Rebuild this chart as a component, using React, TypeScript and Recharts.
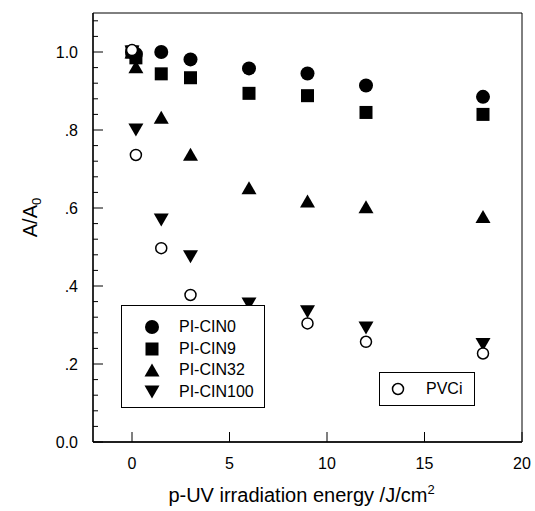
import { Label, Legend, ReferenceArea, Scatter, ScatterChart, XAxis, YAxis } from 'recharts'

const FONT = '"Liberation Sans", Arial, sans-serif'

// p-UV dose (J/cm2) and normalised absorbance A/A0
const energy = [0, 0.2, 1.5, 3, 6, 9, 12, 18]
const cin0 = [1.0, 0.995, 1.0, 0.981, 0.958, 0.945, 0.914, 0.885]
const cin9 = [1.0, 0.985, 0.944, 0.934, 0.894, 0.888, 0.845, 0.84]
const cin32 = [1.0, 0.962, 0.833, 0.738, 0.652, 0.618, 0.603, 0.578]
const cin100 = [1.0, 0.8, 0.569, 0.475, 0.354, 0.334, 0.292, 0.25]
const pvciEnergy = [0, 0.2, 1.5, 3, 9, 12, 18]
const pvci = [1.005, 0.736, 0.497, 0.377, 0.304, 0.257, 0.227]

const xTicks = [0, 5, 10, 15, 20]
const yMajorTicks = [0, 0.2, 0.4, 0.6, 0.8, 1.0]
const yTickLabels = ['0.0', '.2', '.4', '.6', '.8', '1.0']
const yMinorTicks = [
  0.04, 0.08, 0.12, 0.16, 0.24, 0.28, 0.32, 0.36, 0.44, 0.48, 0.52, 0.56, 0.64, 0.68, 0.72, 0.76, 0.84, 0.88,
  0.92, 0.96, 1.04, 1.08,
]

type Kind = 'circle' | 'square' | 'up' | 'down' | 'open'

const toPoints = (xs: number[], ys: number[]) => xs.map((x, i) => ({ x, y: ys[i] }))

const series: { name: string; kind: Kind; data: { x: number; y: number }[] }[] = [
  { name: 'PI-CIN0', kind: 'circle', data: toPoints(energy, cin0) },
  { name: 'PI-CIN9', kind: 'square', data: toPoints(energy, cin9) },
  { name: 'PI-CIN32', kind: 'up', data: toPoints(energy, cin32) },
  { name: 'PI-CIN100', kind: 'down', data: toPoints(energy, cin100) },
  { name: 'PVCi', kind: 'open', data: toPoints(pvciEnergy, pvci) },
]

function Marker({ kind, cx, cy }: { kind: Kind; cx: number; cy: number }) {
  switch (kind) {
    case 'circle':
      return <circle cx={cx} cy={cy} r={7} fill="#000" />
    case 'square':
      return <rect x={cx - 6.5} y={cy - 6.5} width={13} height={13} fill="#000" />
    case 'up':
      return <polygon points={`${cx},${cy - 6.5} ${cx + 7.5},${cy + 6.5} ${cx - 7.5},${cy + 6.5}`} fill="#000" />
    case 'down':
      return <polygon points={`${cx},${cy + 6.5} ${cx + 7.5},${cy - 6.5} ${cx - 7.5},${cy - 6.5}`} fill="#000" />
    default:
      return <circle cx={cx} cy={cy} r={5.5} fill="#fff" stroke="#000" strokeWidth={1.5} />
  }
}

function YTick(props: any) {
  const { x, y, payload } = props
  const i = yMajorTicks.indexOf(payload.value)
  const major = i >= 0
  return (
    <g>
      <line x1={x} x2={x + (major ? 10 : 5)} y1={y} y2={y} stroke="#000" />
      {major && (
        <text x={x - 15} y={y + 5.5} textAnchor="end" fontSize={16} fontFamily={FONT} fill="#000">
          {yTickLabels[i]}
        </text>
      )}
    </g>
  )
}

function XTick(props: any) {
  const { x, y, payload } = props
  return (
    <g>
      <line x1={x} x2={x} y1={y} y2={y - 10} stroke="#000" />
      <text x={x} y={y + 27} textAnchor="middle" fontSize={16} fontFamily={FONT} fill="#000">
        {payload.value}
      </text>
    </g>
  )
}

function YTitle(props: any) {
  const { viewBox } = props
  const x = 37
  const y = viewBox.y + viewBox.height / 2 - 10
  return (
    <text
      x={x}
      y={y}
      transform={`rotate(-90, ${x}, ${y})`}
      textAnchor="middle"
      fontSize={20}
      fontFamily={FONT}
      fill="#000"
    >
      A/A
      <tspan dy={4} fontSize={13}>
        0
      </tspan>
    </text>
  )
}

function XTitle(props: any) {
  const { viewBox } = props
  return (
    <text
      x={viewBox.x + viewBox.width / 2 - 6}
      y={viewBox.y + 60}
      textAnchor="middle"
      fontSize={20}
      fontFamily={FONT}
      fill="#000"
    >
      p-UV irradiation energy /J/cm
      <tspan dy={-8} fontSize={13}>
        2
      </tspan>
    </text>
  )
}

function LegendRow({ kind, name, top, symbolX, textX }: { kind: Kind; name: string; top: number; symbolX: number; textX: number }) {
  return (
    <div style={{ position: 'absolute', left: 0, top: top - 10, height: 20, width: '100%' }}>
      <svg width={20} height={20} style={{ position: 'absolute', left: symbolX - 10, top: 0 }}>
        <Marker kind={kind} cx={10} cy={10} />
      </svg>
      <span style={{ position: 'absolute', left: textX, top: 0, lineHeight: '20px', whiteSpace: 'nowrap' }}>{name}</span>
    </div>
  )
}

function LegendBoxes() {
  const main = series.slice(0, 4)
  const box = { position: 'absolute' as const, border: '1px solid #000', background: '#fff', boxSizing: 'border-box' as const }
  return (
    <div style={{ position: 'relative', fontFamily: FONT, fontSize: 16, color: '#000' }}>
      <div style={{ ...box, left: 121, top: 305, width: 144, height: 103 }}>
        {main.map((s, i) => (
          <LegendRow key={s.name} kind={s.kind} name={s.name} top={21 + i * 21.5} symbolX={30} textX={57} />
        ))}
      </div>
      <div style={{ ...box, left: 379, top: 372, width: 96, height: 34 }}>
        <LegendRow kind="open" name="PVCi" top={16} symbolX={18} textX={46} />
      </div>
    </div>
  )
}

export default function App() {
  return (
    <div style={{ position: 'absolute', left: 0, top: 0, background: '#fff' }}>
      <ScatterChart width={535} height={511} margin={{ top: 13, right: 13, bottom: 0, left: 0 }}>
        <ReferenceArea x1={-2} x2={20} y1={0} y2={1.1} fill="none" stroke="#000" strokeWidth={1} ifOverflow="visible" />
        <XAxis
          type="number"
          dataKey="x"
          domain={[-2, 20]}
          ticks={xTicks}
          interval={0}
          height={69}
          tickSize={0}
          tickMargin={0}
          tickLine={false}
          tick={<XTick />}
          axisLine={{ stroke: '#000', strokeWidth: 1.3 }}
          allowDataOverflow
        >
          <Label content={<XTitle />} />
        </XAxis>
        <YAxis
          type="number"
          dataKey="y"
          domain={[0, 1.1]}
          ticks={[...yMajorTicks, ...yMinorTicks]}
          interval={0}
          width={93}
          tickSize={0}
          tickMargin={0}
          tickLine={false}
          tick={<YTick />}
          axisLine={{ stroke: '#000', strokeWidth: 1.3 }}
          allowDataOverflow
        >
          <Label content={<YTitle />} />
        </YAxis>
        {series.map((s) => (
          <Scatter
            key={s.name}
            name={s.name}
            data={s.data}
            isAnimationActive={false}
            shape={(p: any) => <Marker kind={s.kind} cx={p.cx} cy={p.cy} />}
          />
        ))}
        <Legend
          verticalAlign="top"
          content={() => <LegendBoxes />}
          wrapperStyle={{ position: 'absolute', left: 0, top: 0, width: 0, height: 0, overflow: 'visible' }}
        />
      </ScatterChart>
    </div>
  )
}
